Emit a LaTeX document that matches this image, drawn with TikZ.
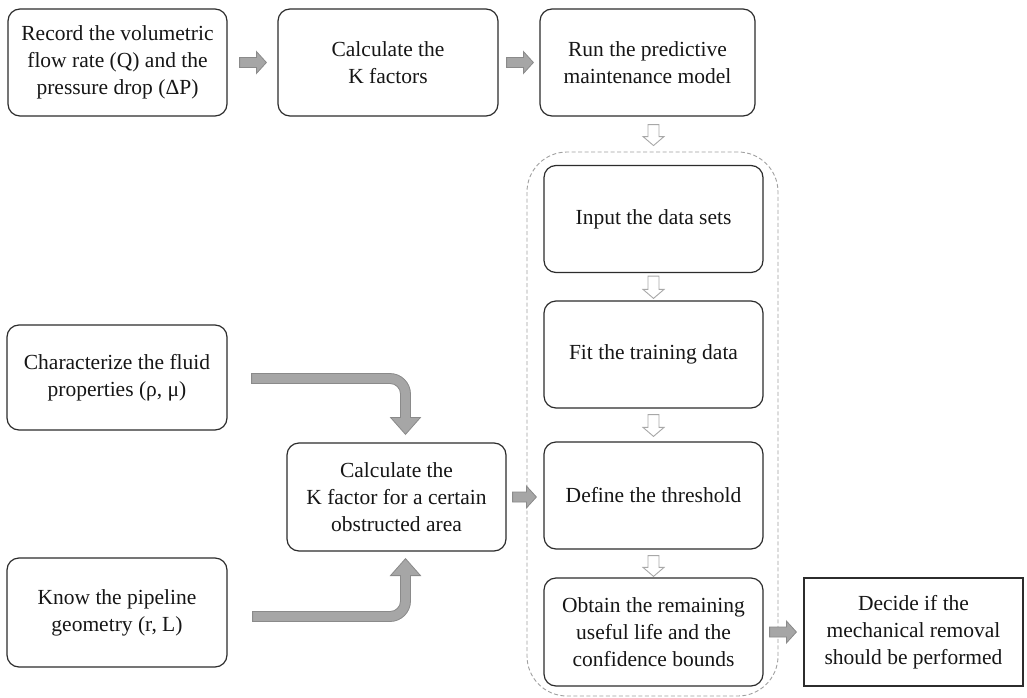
\documentclass[tikz,border=0pt]{standalone}
\usepackage{fontspec}
\setmainfont{Liberation Serif}
\usetikzlibrary{calc}
\definecolor{boxline}{HTML}{2C2C2C}
\definecolor{txt}{HTML}{161616}
\definecolor{arrfill}{HTML}{A6A6A6}
\definecolor{arredge}{HTML}{8A8A8A}
\definecolor{warredge}{HTML}{A8A8A8}
\definecolor{dashc}{HTML}{A0A0A0}
% straight right-pointing block arrow
\newcommand\arrR[3][grayblk]{\path[#1] let \p1=(#2), \p2=(#3) in
 (\x1,\y1+5pt) -- (\x2-10pt,\y1+5pt) -- (\x2-10pt,\y1+11pt) -- (\x2,\y1)
 -- (\x2-10pt,\y1-11pt) -- (\x2-10pt,\y1-5pt) -- (\x1,\y1-5pt) -- cycle;}
% straight down-pointing block arrow
\newcommand\arrD[3][whiteblk]{\path[#1] let \p1=(#2), \p2=(#3) in
 (\x1-5.5pt,\y1) -- (\x1-5.5pt,\y2+9pt) -- (\x1-10.5pt,\y2+9pt) -- (\x1,\y2)
 -- (\x1+10.5pt,\y2+9pt) -- (\x1+5.5pt,\y2+9pt) -- (\x1+5.5pt,\y1) -- cycle;}
% bent arrow: right then down
\newcommand\bendDown[2]{\path[grayblk] let \p1=(#1), \p2=(#2) in
 (\x1,\y1+5pt) -- (\x2-15.5pt,\y1+5pt) .. controls (\x2-4.2pt,\y1+5pt) and (\x2+5pt,\y1-4.2pt) .. (\x2+5pt,\y1-15.5pt)
 -- (\x2+5pt,\y2+17pt) -- (\x2+15pt,\y2+17pt) -- (\x2,\y2) -- (\x2-15pt,\y2+17pt) -- (\x2-5pt,\y2+17pt)
 -- (\x2-5pt,\y1-15.5pt) .. controls (\x2-5pt,\y1-9.7pt) and (\x2-9.7pt,\y1-5pt) .. (\x2-15.5pt,\y1-5pt)
 -- (\x1,\y1-5pt) -- cycle;}
% bent arrow: right then up
\newcommand\bendUp[2]{\path[grayblk] let \p1=(#1), \p2=(#2) in
 (\x1,\y1-5pt) -- (\x2-15.5pt,\y1-5pt) .. controls (\x2-4.2pt,\y1-5pt) and (\x2+5pt,\y1+4.2pt) .. (\x2+5pt,\y1+15.5pt)
 -- (\x2+5pt,\y2-17pt) -- (\x2+15pt,\y2-17pt) -- (\x2,\y2) -- (\x2-15pt,\y2-17pt) -- (\x2-5pt,\y2-17pt)
 -- (\x2-5pt,\y1+15.5pt) .. controls (\x2-5pt,\y1+9.7pt) and (\x2-9.7pt,\y1+5pt) .. (\x2-15.5pt,\y1+5pt)
 -- (\x1,\y1+5pt) -- cycle;}
\begin{document}
\begin{tikzpicture}[x=1pt,y=-1pt,
  rbox/.style={draw=boxline, line width=1.2pt, rounded corners=12pt, inner sep=0pt,
    minimum width=219pt, minimum height=107pt, align=center, text=txt,
    font=\fontsize{21.5}{27}\selectfont},
  sbox/.style={rbox, sharp corners},
  grpbox/.style={draw=dashc, line width=0.9pt, dash pattern=on 4pt off 2.5pt,
    rounded corners=40pt, inner sep=0pt, minimum width=251pt, minimum height=544pt},
  grayblk/.style={fill=arrfill, draw=arredge, line width=0.8pt},
  whiteblk/.style={fill=white, draw=warredge, line width=0.9pt}]
\useasboundingbox (0,0) rectangle (1027,698);
\fill[white] (0,0) rectangle (1027,698);

\node[grpbox] (grp) at (652.5,424) {};

\node[rbox] (rec) at (117.5,62.5) {Record the volumetric\\flow rate (Q) and the\\pressure drop (ΔP)};
\node[rbox, minimum width=220pt] (calck) at (388,62.5) {Calculate the\\K factors};
\node[rbox, minimum width=215pt] (run) at (647.5,62.5) {Run the predictive\\maintenance model};

\node[rbox] (input) at (653.5,219) {Input the data sets};
\node[rbox] (fit) at (653.5,354.5) {Fit the training data};
\node[rbox] (define) at (653.5,495.5) {Define the threshold};
\node[rbox, minimum height=108pt] (obtain) at (653.5,632) {Obtain the remaining\\useful life and the\\confidence bounds};
\node[sbox, minimum height=108pt] (decide) at (913.5,632) {Decide if the\\mechanical removal\\should be performed};

\node[rbox, minimum width=220pt, minimum height=105pt] (char) at (117,377.5) {Characterize the fluid\\properties (ρ, μ)};
\node[rbox, minimum width=220pt, minimum height=109pt] (know) at (117,612.5) {Know the pipeline\\geometry (r, L)};
\node[rbox, minimum height=108pt] (calcobs) at (396.5,497) {Calculate the\\K factor for a certain\\obstructed area};

% gray straight arrows
\coordinate (a1s) at ($(rec.east)+(12,0)$);
\coordinate (a1e) at ($(calck.west)+(-11,0)$);
\arrR{a1s}{a1e}
\coordinate (a2s) at ($(calck.east)+(8,0)$);
\coordinate (a2e) at ($(run.west)+(-6,0)$);
\arrR{a2s}{a2e}
\coordinate (a3s) at ($(calcobs.east)+(6,0)$);
\coordinate (a3e) at ($(define.west)+(-7,0)$);
\arrR{a3s}{a3e}
\coordinate (a4s) at ($(obtain.east)+(6,0)$);
\coordinate (a4e) at ($(decide.west)+(-7,0)$);
\arrR{a4s}{a4e}

% white down arrows
\coordinate (w0) at (run.south -| input.north);
\coordinate (w0s) at ($(w0)+(0,8)$);
\coordinate (g0) at (grp.north -| input.north);
\coordinate (w0e) at ($(g0)+(0,-6)$);
\arrD{w0s}{w0e}
\coordinate (w1s) at ($(input.south)+(0,3)$);
\coordinate (w1e) at ($(fit.north)+(0,-2)$);
\arrD{w1s}{w1e}
\coordinate (w2s) at ($(fit.south)+(0,6)$);
\coordinate (w2e) at ($(define.north)+(0,-5)$);
\arrD{w2s}{w2e}
\coordinate (w3s) at ($(define.south)+(0,6)$);
\coordinate (w3e) at ($(obtain.north)+(0,-1)$);
\arrD{w3s}{w3e}

% bent arrows into the K factor box
\coordinate (tbs) at ($(char.east)+(24,1)$);
\coordinate (tbe) at ($(calcobs.north)+(9,-8)$);
\bendDown{tbs}{tbe}
\coordinate (bbs) at ($(know.east)+(25,4)$);
\coordinate (bbe) at ($(calcobs.south)+(9,7)$);
\bendUp{bbs}{bbe}
\end{tikzpicture}
\end{document}
